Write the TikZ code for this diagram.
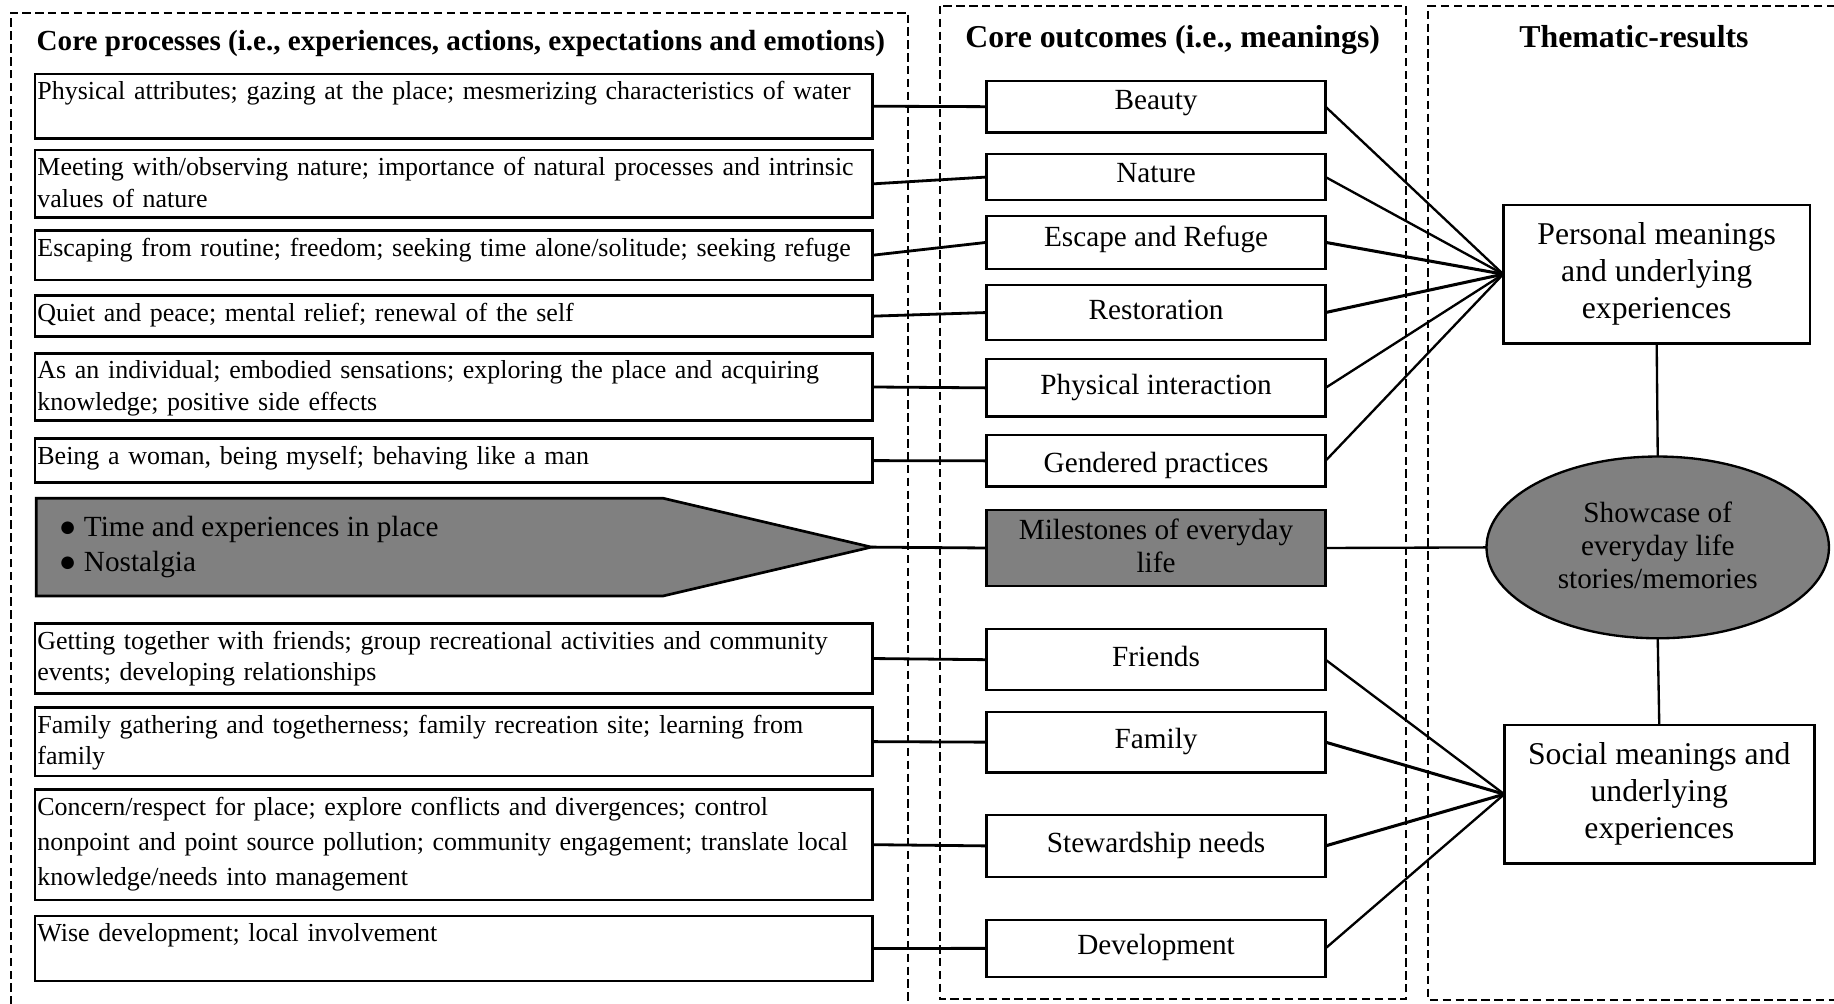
\documentclass[tikz,border=0pt]{standalone}
\usepackage{fontspec}
\setmainfont{Liberation Serif}
\usetikzlibrary{shapes.geometric}
\definecolor{boxgray}{RGB}{128,128,128}
\hyphenpenalty=10000
\exhyphenpenalty=10000
\tikzset{
  frame/.style={line width=0.85pt, dash pattern=on 3.6pt off 1.9pt},
  ltitle/.style={anchor=base, inner sep=0pt, font=\bfseries\fontsize{12.45pt}{14pt}\selectfont},
  rtitle/.style={anchor=base, inner sep=0pt, font=\bfseries\fontsize{13.6pt}{16pt}\selectfont},
  procbox/.style={draw, line width=1.15pt, outer sep=0pt, anchor=north west, text width=356pt, inner xsep=1pt, inner ysep=0pt, align=left, font=\fontsize{11.1pt}{13.5pt}\selectfont, text height=11pt, text depth=#1},
  outbox/.style={draw, line width=1pt, outer sep=0pt, minimum width=144.85pt, inner sep=0pt, align=center, font=\fontsize{12.5pt}{13.5pt}\selectfont},
  one/.style={text height=8.75pt, text depth=#1},
  one/.default=3.1pt,
  resbox/.style={draw, line width=1.1pt, outer sep=0pt, inner sep=0pt, align=center, font=\fontsize{13.55pt}{15.75pt}\selectfont},
  lnk/.style={line width=1.2pt},
  dl/.style={line width=1pt},
  dlb/.style={line width=1.3pt},
}
\begin{document}
\begin{tikzpicture}[x=0.5pt,y=-0.5pt]
\useasboundingbox (0,0) rectangle (1568,858);
% frames
\draw[frame] (9,870) -- (9,11) -- (776.6,11) -- (776.6,870);
\draw[frame] (803.8,5) rectangle (1202.3,854.5);
\draw[frame] (1580,5) -- (1221.2,5) -- (1221.2,855) -- (1580,855);
% titles
\node[ltitle] (t1) at (394,43) {Core processes (i.e., experiences, actions, expectations and emotions)};
\node[rtitle] (t2) at (1002.6,40.5) {Core outcomes (i.e., meanings)};
\node[rtitle] (t3) at (1397,40.5) {Thematic-results};
% left boxes
\node[procbox=16.5pt] (l1) at (30,63.3) {Physical attributes; gazing at the place; mesmerizing characteristics of water};
\node[procbox=18pt] (l2) at (30,128.2) {Meeting with/observing nature; importance of natural processes and intrinsic\\values of nature};
\node[procbox=10.2pt] (l3) at (30,197) {Escaping from routine; freedom; seeking time alone/solitude; seeking refuge};
\node[procbox=6.5pt] (l4) at (30,252.8) {Quiet and peace; mental relief; renewal of the self};
\node[procbox=17.85pt] (l5) at (30,302) {As an individual; embodied sensations; exploring the place and acquiring\\knowledge; positive side effects};
\node[procbox=8pt] (l6) at (30,374.8) {Being a woman, being myself; behaving like a man};
\draw[fill=boxgray, line width=1.15pt] (31,426) -- (567,426) -- (745,467.75) -- (567,509.5) -- (31,509.5) -- cycle;
\coordinate (ptip) at (745,467.75);
\node[anchor=west, inner sep=0pt, align=left, font=\fontsize{12.5pt}{15pt}\selectfont] (pent) at (50,468) {● Time and experiences in place\\● Nostalgia};
\node[procbox=19pt] (l8) at (30,533) {Getting together with friends; group recreational activities and community\\events; developing relationships};
\node[procbox=18.35pt] (l9) at (30,604.7) {Family gathering and togetherness; family recreation site; learning from\\family};
\node[procbox=36.35pt, font=\fontsize{11.1pt}{15pt}\selectfont] (l10) at (30,674.8) {Concern/respect for place; explore conflicts and divergences; control\\nonpoint and point source pollution; community engagement; translate local\\knowledge/needs into management};
\node[procbox=16.8pt] (l11) at (30,783.1) {Wise development; local involvement};
% middle boxes
\node[outbox, one=6.1pt, minimum height=22.2pt] (m1) at (988.4,91.2) {Beauty};
\node[outbox, one=4.1pt, minimum height=19.65pt] (m2) at (988.4,151.35) {Nature};
\node[outbox, one=5.5pt, minimum height=22.8pt] (m3) at (988.4,207.2) {Escape and Refuge};
\node[outbox, one, minimum height=23.5pt] (m4) at (988.4,267.2) {Restoration};
\node[outbox, one, minimum height=24.6pt] (m5) at (988.4,331.6) {Physical interaction};
\node[outbox, text height=13.35pt, text depth=3.1pt, minimum height=22pt] (m6) at (988.4,394) {Gendered practices};
\node[outbox, fill=boxgray, minimum height=32.5pt, font=\fontsize{12.5pt}{14pt}\selectfont] (m7) at (988.4,468.5) {Milestones of everyday\\life\\[-12pt]};
\node[outbox, one, minimum height=26pt] (m8) at (988.4,564) {Friends};
\node[outbox, one, minimum height=26pt] (m9) at (988.4,634.5) {Family};
\node[outbox, one, minimum height=26.35pt] (m10) at (988.4,723.2) {Stewardship needs};
\node[outbox, one, minimum height=24.2pt] (m11) at (988.4,810.8) {Development};
% right side
\node[resbox, minimum width=131.2pt, minimum height=59.1pt] (pm) at (1416.4,234.4) {Personal meanings\\and underlying\\experiences};
\node[ellipse, draw, fill=boxgray, line width=1pt, outer sep=0pt, minimum width=146.4pt, minimum height=77.7pt, inner sep=0pt, align=center, font=\fontsize{12.5pt}{14pt}\selectfont] (ell) at (1417.3,468) {Showcase of\\everyday life\\stories/memories\\[-12pt]};
\node[resbox, minimum width=132.5pt, minimum height=59.15pt] (sm) at (1418.6,679) {Social meanings and\\underlying\\experiences};
% connectors left -> middle
\draw[lnk] (l1.east) -- (m1.west);
\draw[lnk] (l2.east) -- (m2.west);
\draw[lnk] (l3.east) -- (m3.west);
\draw[lnk] (l4.east) -- (m4.west);
\draw[lnk] (l5.east) -- (m5.west);
\draw[lnk] (l6.east) -- (m6.west);
\draw[lnk] (ptip) -- (m7.west);
\draw[lnk] (l8.east) -- (m8.west);
\draw[lnk] (l9.east) -- (m9.west);
\draw[lnk] (l10.east) -- (m10.west);
\draw[lnk] (l11.east) -- (m11.west);
% connectors middle -> right
\draw[dl] (m1.east) -- (pm.west);
\draw[dl] (m2.east) -- (pm.west);
\draw[dlb] (m3.east) -- (pm.west);
\draw[dlb] (m4.east) -- (pm.west);
\draw[dl] (m5.east) -- (pm.west);
\draw[dl] (m6.east) -- (pm.west);
\draw[dl] (m7.east) -- (ell.west);
\draw[dl] (m8.east) -- (sm.west);
\draw[dlb] (m9.east) -- (sm.west);
\draw[dlb] (m10.east) -- (sm.west);
\draw[dl] (m11.east) -- (sm.west);
\draw[dl] (pm.south) -- (ell.north);
\draw[dl] (ell.south) -- (sm.north);
\end{tikzpicture}
\end{document}
